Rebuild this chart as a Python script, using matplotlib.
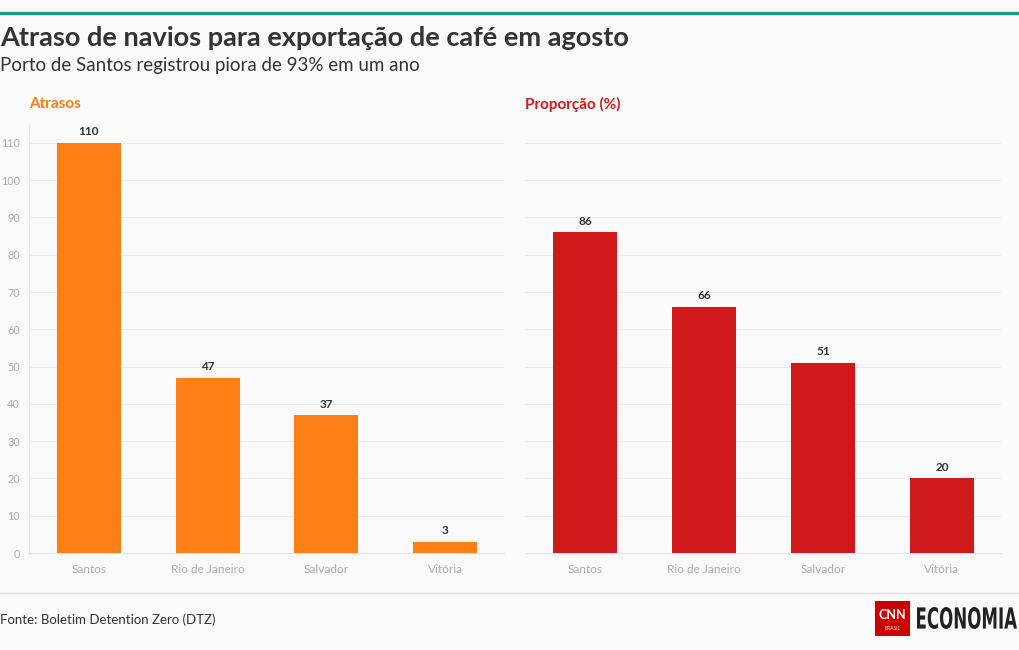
import matplotlib
matplotlib.use("Agg")
import matplotlib.pyplot as plt
from matplotlib.patches import Rectangle, PathPatch
from matplotlib.textpath import TextPath
from matplotlib.font_manager import FontProperties
from matplotlib.transforms import Affine2D, IdentityTransform

categories = ["Santos", "Rio de Janeiro", "Salvador", "Vitória"]
atrasos = [110, 47, 37, 3]
proporcao = [86, 66, 51, 20]
yticks = [0, 10, 20, 30, 40, 50, 60, 70, 80, 90, 100, 110]

FONT = ["Lato", "DejaVu Sans"]
plt.rcParams["font.family"] = FONT
BG = "#fafafa"
ORANGE = "#fd7f16"
RED = "#d0191b"
GRID = "#ebebeb"

W, H = 1020, 650
fig = plt.figure(figsize=(W / 100, H / 100), dpi=100, facecolor=BG)

def fx(px):
    return px / W

def fy(py):
    return 1 - py / H

# top accent line
fig.add_artist(plt.Line2D([0, 1], [fy(13), fy(13)], color="#1c9b7d", lw=2.4))
# bottom separator
fig.add_artist(plt.Line2D([0, 1], [fy(593), fy(593)], color="#dddddd", lw=1))

fig.text(fx(0), fy(38), "Atraso de navios para exportação de café em agosto",
         fontsize=19.5, fontweight="bold", color="#333333", va="center", ha="left")
fig.text(fx(0), fy(65), "Porto de Santos registrou piora de 93% em um ano",
         fontsize=13.5, color="#333333", va="center", ha="left")
fig.text(fx(0), fy(620), "Fonte: Boletim Detention Zero (DTZ)",
         fontsize=9.5, color="#333333", va="center", ha="left")

top_px, bot_px = 125, 553
ymax = 114.8

def make_panel(x0, x1, values, color, title, show_y):
    ax = fig.add_axes([fx(x0), fy(bot_px), fx(x1 - x0), (bot_px - top_px) / H])
    ax.set_facecolor(BG)
    x = list(range(len(categories)))
    ax.bar(x, values, width=0.54, color=color, zorder=3)
    for xi, v in zip(x, values):
        ax.annotate(str(v), (xi, v), xytext=(0, 4), textcoords="offset points",
                    ha="center", va="bottom", fontsize=8.5, fontweight="bold",
                    color="#333333", zorder=4)
    ax.set_xlim(-0.5, len(categories) - 0.5)
    ax.set_ylim(0, ymax)
    ax.set_yticks(yticks)
    ax.yaxis.grid(True, color=GRID, lw=0.8, zorder=0)
    ax.set_xticks(x)
    ax.set_xticklabels(categories, fontsize=8.5, color="#aaaaaa")
    ax.tick_params(axis="x", length=0, pad=8)
    for s in ["top", "right"]:
        ax.spines[s].set_visible(False)
    ax.spines["bottom"].set_color("#e3e3e3")
    ax.spines["bottom"].set_linewidth(0.8)
    if show_y:
        ax.spines["left"].set_color("#e6e6e6")
        ax.spines["left"].set_linewidth(0.8)
        ax.tick_params(axis="y", length=0, pad=7, labelsize=7.8, labelcolor="#aaaaaa")
    else:
        ax.spines["left"].set_visible(False)
        ax.tick_params(axis="y", length=0, labelleft=False)
    fig.text(fx(x0), fy(104), title, fontsize=11, fontweight="bold", color=color,
             va="center", ha="left")
    return ax

make_panel(29.5, 504.5, atrasos, ORANGE, "Atrasos", True)
make_panel(525.5, 1001.5, proporcao, RED, "Proporção (%)", False)

# logo
fig.add_artist(Rectangle((fx(875), fy(636)), fx(35), (636 - 601) / H,
                         facecolor="#cc0000", edgecolor="none"))
fig.text(fx(892.5), fy(615), "CNN", fontsize=9, fontweight="bold", color="white",
         ha="center", va="center")
fig.text(fx(892.5), fy(628), "BRASIL", fontsize=3.5, color="white",
         ha="center", va="center")

tp = TextPath((0, 0), "ECONOMIA", size=20,
              prop=FontProperties(family="DejaVu Sans", weight="bold"))
bb = tp.get_extents()
tx0, tx1 = 917, 1017
ty_top, ty_bot = 607, 629
sx = (tx1 - tx0) / bb.width
sy = (ty_bot - ty_top) / bb.height
tr = Affine2D().translate(-bb.x0, -bb.y0).scale(sx, sy).translate(tx0, H - ty_bot)
patch = PathPatch(tp, facecolor="#222222", edgecolor="none",
                  transform=tr + IdentityTransform())
fig.add_artist(patch)

fig.savefig("out.png", dpi=100, facecolor=BG)
